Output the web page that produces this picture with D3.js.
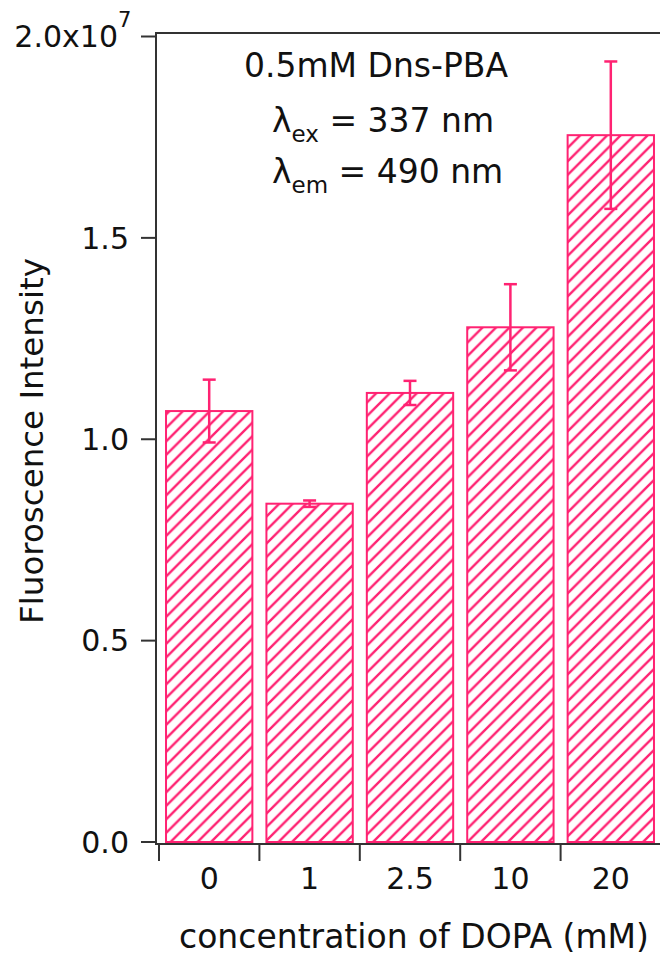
<!DOCTYPE html>
<html><head><meta charset="utf-8">
<script src="https://cdn.jsdelivr.net/npm/d3@7"></script>
<style>body{margin:0;background:#fff}svg{display:block}text{font-family:"DejaVu Sans","Noto Sans",sans-serif;fill:#111}</style>
</head><body><svg id="c" width="660" height="956"></svg>
<script>
const categories = ["0", "1", "2.5", "10", "20"];
const values = [1.07e7, 0.84e7, 1.115e7, 1.278e7, 1.755e7];
const errors = [0.078e7, 0.008e7, 0.03e7, 0.107e7, 0.183e7];
const yTicks = [0, 0.5e7, 1.0e7, 1.5e7, 2.0e7];
const yTickLabels = ["0.0", "0.5", "1.0", "1.5", "2.0x10"];

const pink = "#ff2272", axisC = "#333";
const svg = d3.select("#c");
const y = d3.scaleLinear().domain([0, 2e7]).range([842, 36.5]);
const x = d3.scaleBand().domain(categories).range([159, 661]).paddingInner(0.12).paddingOuter(0.06);

const defs = svg.append("defs");
const h = 13.5;
const pat = defs.append("pattern").attr("id","hatch").attr("patternUnits","userSpaceOnUse")
  .attr("width",h).attr("height",h);
pat.append("path").attr("d",`M${-h/4},${h/4} l${h/2},${-h/2} M0,${h} l${h},${-h} M${h*0.75},${h*1.25} l${h/2},${-h/2}`)
  .attr("stroke",pink).attr("stroke-width",2.4);

// frame lines
svg.append("line").attr("x1",156).attr("x2",660).attr("y1",33).attr("y2",33).attr("stroke",axisC).attr("stroke-width",2);
svg.append("line").attr("x1",156).attr("x2",156).attr("y1",32).attr("y2",845).attr("stroke",axisC).attr("stroke-width",2);
svg.append("line").attr("x1",155).attr("x2",660).attr("y1",844).attr("y2",844).attr("stroke",axisC).attr("stroke-width",2);

// bars
svg.selectAll("rect.bar").data(values).join("rect").attr("class","bar")
  .attr("x",(d,i)=>x(categories[i])+1).attr("width",x.bandwidth()-2)
  .attr("y",d=>y(d)).attr("height",d=>y(0)-y(d))
  .attr("fill","url(#hatch)").attr("stroke",pink).attr("stroke-width",2);

// error bars
const eg = svg.append("g").attr("stroke",pink).attr("stroke-width",2.5);
values.forEach((v,i)=>{
  const cx = x(categories[i]) + x.bandwidth()/2;
  eg.append("line").attr("x1",cx).attr("x2",cx).attr("y1",y(v+errors[i])).attr("y2",y(v-errors[i]));
  [v+errors[i], v-errors[i]].forEach(e=>eg.append("line").attr("x1",cx-6.5).attr("x2",cx+6.5).attr("y1",y(e)).attr("y2",y(e)));
});

// y ticks
yTicks.forEach((t,i)=>{
  svg.append("line").attr("x1",141).attr("x2",156).attr("y1",y(t)).attr("y2",y(t)).attr("stroke",axisC).attr("stroke-width",2);
  const tx = svg.append("text").attr("x",129).attr("y",y(t)).attr("dy","0.36em").attr("text-anchor","end")
    .attr("font-size",30);
  if (i === yTicks.length-1) {
    tx.attr("x",118).text(yTickLabels[i]);
    svg.append("text").attr("x",118).attr("y",y(t)-10).attr("font-size",21).text("7");
  } else tx.text(yTickLabels[i]);
});

// x ticks (at category boundaries)
categories.forEach((c,i)=>{
  const bx = x(c) - x.step()*x.paddingInner()/2;
  svg.append("line").attr("x1",bx).attr("x2",bx).attr("y1",844).attr("y2",861).attr("stroke",axisC).attr("stroke-width",2);
  svg.append("text").attr("x",x(c)+x.bandwidth()/2).attr("y",889).attr("text-anchor","middle").attr("font-size",30).text(c);
});

// titles
svg.append("text").attr("x",414).attr("y",948).attr("text-anchor","middle").attr("font-size",33).text("concentration of DOPA (mM)");
svg.append("text").attr("transform","translate(43,441) rotate(-90)").attr("text-anchor","middle").attr("font-size",32.5).text("Fluoroscence Intensity");

// annotation
svg.append("text").attr("x",376).attr("y",77).attr("text-anchor","middle").attr("font-size",33).text("0.5mM Dns-PBA");
const l2 = svg.append("text").attr("x",272).attr("y",132).attr("font-size",33);
l2.append("tspan").text("λ");
l2.append("tspan").attr("font-size",23).attr("dy",10).text("ex");
l2.append("tspan").attr("dy",-10).text(" = 337 nm");
const l3 = svg.append("text").attr("x",272).attr("y",183).attr("font-size",33);
l3.append("tspan").text("λ");
l3.append("tspan").attr("font-size",23).attr("dy",10).text("em");
l3.append("tspan").attr("dy",-10).text(" = 490 nm");
</script></body></html>
